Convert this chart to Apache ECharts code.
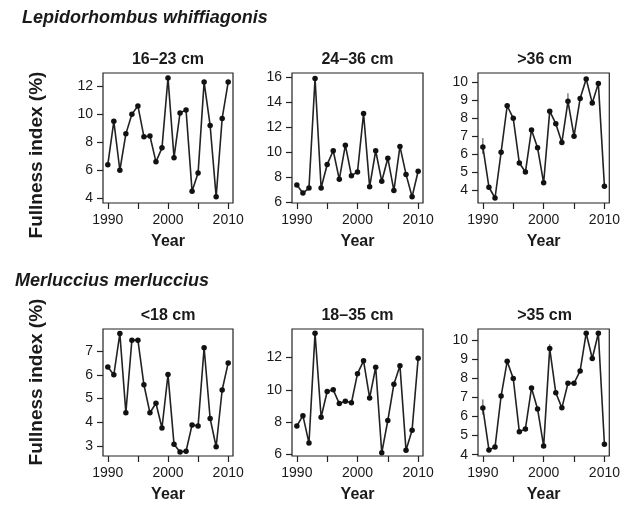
<!DOCTYPE html>
<html>
<head>
<meta charset="utf-8">
<script src="https://cdn.jsdelivr.net/npm/echarts@6/dist/echarts.min.js"></script>
<style>
  html, body { margin: 0; padding: 0; background: #fff; }
  #chart { width: 623px; height: 507px; }
</style>
</head>
<body>
<div id="chart"></div>
<script>
// data
var years = [1990, 1991, 1992, 1993, 1994, 1995, 1996, 1997, 1998, 1999, 2000,
             2001, 2002, 2003, 2004, 2005, 2006, 2007, 2008, 2009, 2010];

var lw_16_23 = [6.4, 9.5, 6.0, 8.6, 10.0, 10.6, 8.4, 8.45, 6.6, 7.6, 12.6, 6.9, 10.1, 10.3, 4.5, 5.8, 12.3, 9.2, 4.1, 9.7, 12.3];
var lw_24_36 = [7.35, 6.7, 7.1, 15.9, 7.1, 9.0, 10.1, 7.8, 10.55, 8.1, 8.4, 13.1, 7.2, 10.1, 7.65, 9.5, 6.9, 10.45, 8.2, 6.4, 8.45];
var lw_36 = [6.4, 4.15, 3.55, 6.1, 8.7, 8.0, 5.5, 5.0, 7.35, 6.35, 4.4, 8.4, 7.7, 6.65, 8.95, 7.0, 9.1, 10.2, 8.85, 9.95, 4.2];
var mm_18 = [6.33, 6.0, 7.74, 4.4, 7.46, 7.46, 5.58, 4.4, 4.8, 3.76, 6.01, 3.07, 2.75, 2.78, 3.89, 3.84, 7.14, 4.16, 2.97, 5.36, 6.5];
var mm_18_35 = [7.76, 8.4, 6.7, 13.5, 8.3, 9.9, 10.0, 9.15, 9.3, 9.2, 11.0, 11.8, 9.5, 11.4, 6.1, 8.1, 10.35, 11.5, 6.25, 7.5, 11.95];
var mm_35 = [6.45, 4.25, 4.4, 7.08, 8.9, 8.0, 5.2, 5.35, 7.5, 6.4, 4.45, 9.57, 7.25, 6.46, 7.75, 7.75, 8.4, 10.38, 9.05, 10.38, 4.55];

// small error bars visible on a few points: [year, low, high]
var lw_36_err = [[1990, 6.0, 6.9], [2004, 8.6, 9.4]];
var mm_35_err = [[1990, 6.1, 6.9], [2001, 9.35, 9.8]];

var panelTitles = ['16–23 cm', '24–36 cm', '>36 cm', '<18 cm', '18–35 cm', '>35 cm'];
var panelData = [lw_16_23, lw_24_36, lw_36, mm_18, mm_18_35, mm_35];
var panelErr = [null, null, lw_36_err, null, null, mm_35_err];
var yTicks = [
    [4, 6, 8, 10, 12],
    [6, 8, 10, 12, 14, 16],
    [4, 5, 6, 7, 8, 9, 10],
    [3, 4, 5, 6, 7],
    [6, 8, 10, 12],
    [4, 5, 6, 7, 8, 9, 10]
];
var yRange = [[3.66, 12.95], [5.9, 16.35], [3.27, 10.53], [2.58, 7.93], [5.9, 13.77], [3.93, 10.6]];
var xTicks = [1990, 1995, 2000, 2005, 2010];
var xLabels = [1990, 2000, 2010];

var FONT = 'Liberation Sans, Arial, Helvetica, sans-serif';
var INK = '#1a1a1a';

// panel boxes in pixels
var cols = [{left: 103, width: 130}, {left: 292, width: 131}, {left: 478, width: 133}];
var rows = [{top: 73, height: 130}, {top: 329, height: 127}];

var grids = [], xAxes = [], yAxes = [], series = [], titles = [];

function plain(v) { return String(v); }

for (var i = 0; i < 6; i++) {
    var c = cols[i % 3], r = rows[Math.floor(i / 3)];
    grids.push({
        left: c.left, top: r.top, width: c.width, height: r.height,
        show: true, borderColor: '#222', borderWidth: 1.2, backgroundColor: 'transparent'
    });
    titles.push({
        text: panelTitles[i],
        left: c.left + c.width / 2,
        top: r.top - 21,
        textAlign: 'center',
        padding: 0,
        textStyle: {fontFamily: FONT, fontWeight: 'bold', fontSize: 16, color: INK}
    });
    xAxes.push({
        gridIndex: i, type: 'value', min: 1989.2, max: 2010.8,
        name: 'Year', nameLocation: 'middle', nameGap: 31,
        nameTextStyle: {fontFamily: FONT, fontWeight: 'bold', fontSize: 16, color: INK},
        axisLine: {show: false},
        axisTick: {show: true, length: 6, customValues: xTicks, lineStyle: {color: '#222', width: 1.2}},
        axisLabel: {customValues: xLabels, formatter: plain, margin: 10, fontFamily: FONT, fontSize: 14, color: INK},
        splitLine: {show: false}
    });
    yAxes.push({
        gridIndex: i, type: 'value', min: yRange[i][0], max: yRange[i][1],
        axisLine: {show: false},
        axisTick: {show: true, length: 6, customValues: yTicks[i], lineStyle: {color: '#222', width: 1.2}},
        axisLabel: {customValues: yTicks[i], formatter: plain, margin: 10, fontFamily: FONT, fontSize: 14, color: INK},
        splitLine: {show: false}
    });
    series.push({
        type: 'line',
        xAxisIndex: i, yAxisIndex: i,
        data: years.map(function (y, k) { return [y, panelData[i][k]]; }),
        symbol: 'circle', symbolSize: 5.5,
        itemStyle: {color: '#111'},
        lineStyle: {color: '#222', width: 1.6},
        animation: false
    });
    if (panelErr[i]) {
        series.push({
            type: 'custom',
            xAxisIndex: i, yAxisIndex: i,
            data: panelErr[i],
            renderItem: function (params, api) {
                var lo = api.coord([api.value(0), api.value(1)]);
                var hi = api.coord([api.value(0), api.value(2)]);
                return {
                    type: 'line',
                    shape: {x1: lo[0], y1: lo[1], x2: hi[0], y2: hi[1]},
                    style: {stroke: '#444', lineWidth: 1}
                };
            },
            animation: false
        });
    }
}

var chart = echarts.init(document.getElementById('chart'));

chart.setOption({
    backgroundColor: '#fff',
    animation: false,
    title: titles,
    grid: grids,
    xAxis: xAxes,
    yAxis: yAxes,
    series: series,
    graphic: [
        {type: 'text', left: 22, top: 9,
         style: {text: 'Lepidorhombus whiffiagonis', font: 'italic bold 18px ' + FONT, fill: INK}},
        {type: 'text', left: 15, top: 272,
         style: {text: 'Merluccius merluccius', font: 'italic bold 18px ' + FONT, fill: INK}},
        {type: 'text', x: 37, y: 155, rotation: Math.PI / 2,
         style: {text: 'Fullness index (%)', font: 'bold 19px ' + FONT, fill: INK,
                 align: 'center', verticalAlign: 'middle'}},
        {type: 'text', x: 37, y: 382, rotation: Math.PI / 2,
         style: {text: 'Fullness index (%)', font: 'bold 19px ' + FONT, fill: INK,
                 align: 'center', verticalAlign: 'middle'}}
    ]
});

window.addEventListener('resize', function () {
    chart.resize();
});
</script>
</body>
</html>
